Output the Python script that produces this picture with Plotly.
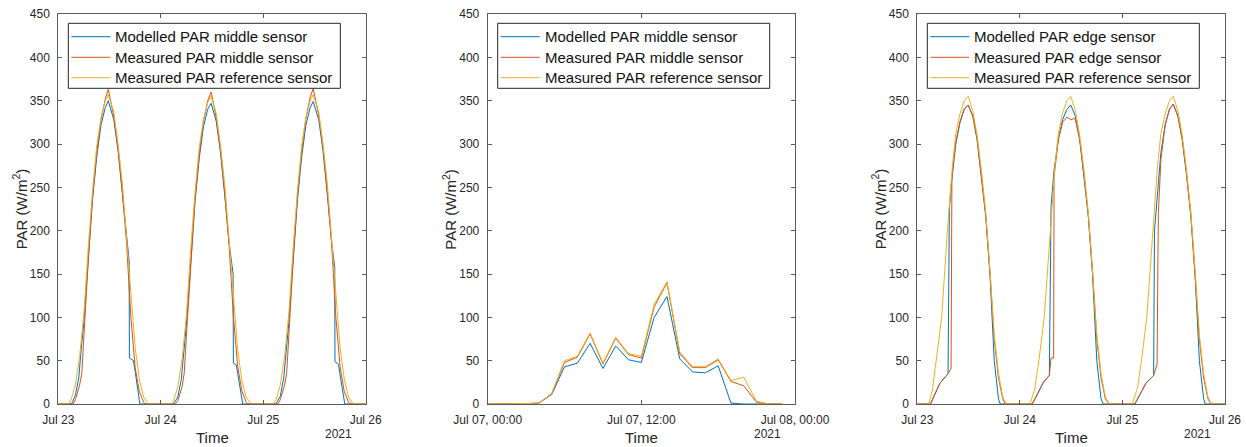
import pandas as pd
import plotly.graph_objects as go

# ---------------------------------------------------------------------------
# Data: hours within each day and PAR (W/m2) at those times.
# Panels 1 and 3 cover 23-25 July 2021, panel 2 covers 7 July 2021.
# ---------------------------------------------------------------------------

# Panel 1 - middle sensor
mid_model_d1_t = [0, 3.1, 4, 4.8, 5.3, 6, 7, 8, 9, 10, 11, 11.7, 13, 14, 15, 16, 16.6, 16.65, 17.6, 18, 19.1]
mid_model_d1_v = [0, 0, 10, 30, 60, 95, 165, 235, 285, 322, 342, 350, 328, 292, 243, 190, 165, 53, 50, 38, 0]
mid_model_d2_t = [2.95, 4, 4.8, 5.3, 6, 7, 8, 9, 10, 11, 11.8, 13, 14, 15, 16, 16.95, 17.0, 17.7, 18.2, 19.2]
mid_model_d2_v = [0, 8, 28, 55, 92, 162, 232, 283, 320, 340, 347, 326, 290, 240, 186, 150, 47, 45, 30, 0]
mid_model_d3_t = [3.0, 4, 4.8, 5.3, 6, 7, 8, 9, 10, 11, 11.7, 13, 14, 15, 16, 16.75, 16.8, 17.6, 18.1, 19.1, 24]
mid_model_d3_v = [0, 9, 30, 58, 94, 164, 234, 285, 322, 342, 349, 328, 292, 242, 188, 158, 49, 46, 32, 0, 0]

mid_meas_d1_t = [0, 3.5, 4, 5, 5.5, 6, 7, 8, 9, 10, 11, 11.7, 13, 14, 15, 16, 17, 18, 19, 20, 20.3]
mid_meas_d1_v = [0, 0, 5, 22, 35, 80, 165, 238, 290, 328, 352, 363, 332, 295, 245, 185, 100, 42, 14, 2, 0]
mid_meas_d2_t = [3.4, 4, 5, 5.5, 6, 7, 8, 9, 10, 11, 11.8, 13, 14, 15, 16, 17, 18, 19, 20, 20.4]
mid_meas_d2_v = [0, 4, 20, 36, 78, 162, 235, 288, 326, 350, 360, 330, 293, 243, 183, 102, 44, 15, 2, 0]
mid_meas_d3_t = [3.4, 4, 5, 5.5, 6, 7, 8, 9, 10, 11, 11.7, 13, 14, 15, 16, 17, 18, 19, 20, 20.3, 24]
mid_meas_d3_v = [0, 5, 22, 36, 80, 166, 240, 292, 330, 354, 364, 333, 296, 246, 186, 101, 43, 14, 2, 0, 0]

mid_ref_d1_t = [0, 2.3, 3, 4, 5, 6, 7, 8, 9, 10, 11, 11.7, 13, 14, 15, 16, 17, 18, 19, 20, 21.1]
mid_ref_d1_v = [0, 0, 5, 22, 55, 105, 180, 245, 298, 330, 350, 357, 337, 300, 255, 195, 130, 65, 28, 8, 0]
mid_ref_d2_t = [2.4, 3, 4, 5, 6, 7, 8, 9, 10, 11, 11.8, 13, 14, 15, 16, 17, 18, 19, 20, 21.2]
mid_ref_d2_v = [0, 4, 20, 52, 102, 178, 243, 296, 328, 348, 355, 335, 298, 253, 193, 128, 63, 27, 8, 0]
mid_ref_d3_t = [2.3, 3, 4, 5, 6, 7, 8, 9, 10, 11, 11.7, 13, 14, 15, 16, 17, 18, 19, 20, 21.1, 24]
mid_ref_d3_v = [0, 5, 22, 55, 105, 180, 245, 298, 330, 350, 357, 337, 300, 255, 195, 130, 65, 28, 8, 0, 0]

# Panel 2 - middle sensor, cloudy day (hourly)
cloudy_t = list(range(24))
cloudy_model_v = [0, 0, 0, 0.3, 1, 11, 43, 47, 70, 41, 67, 51, 48, 100, 124, 52, 37, 36, 44, 1, 0, 0, 0, 0]
cloudy_meas_v = [0, 0, 0, 0.5, 1, 12, 48, 54, 81, 46, 76, 57, 53, 112, 140, 58, 42, 42, 51, 26, 21, 2, 0, 0]
cloudy_ref_v = [0, 0, 0, 0.5, 1, 12, 50, 55, 82, 47, 77, 58, 55, 115, 141, 60, 43, 43, 52, 27, 31, 3, 0, 0]

# Panel 3 - edge sensor
edge_model_d1_t = [0, 3.1, 4, 5.3, 7.2, 7.5, 8, 9, 10, 11, 11.9, 13, 14, 15, 16, 17, 18, 19, 19.4]
edge_model_d1_v = [0, 0, 10, 24, 35, 225, 255, 300, 325, 340, 345, 332, 305, 265, 218, 150, 50, 6, 0]
edge_model_d2_t = [2.9, 4, 5.5, 6.9, 7.3, 8, 9, 10, 11, 11.9, 13, 14, 15, 16, 17, 18, 19, 19.5]
edge_model_d2_v = [0, 10, 25, 33, 228, 270, 305, 328, 340, 345, 332, 305, 265, 218, 150, 50, 6, 0]
edge_model_d3_t = [2.9, 4, 5.5, 7.3, 7.5, 8.3, 9, 10, 11, 11.9, 13, 14, 15, 16, 17, 18, 19, 19.4, 24]
edge_model_d3_v = [0, 10, 24, 33, 200, 248, 290, 322, 340, 346, 332, 305, 265, 218, 150, 50, 6, 0, 0]

edge_meas_d1_t = [0, 3.1, 4, 5.3, 7.2, 7.9, 8.1, 9, 10, 11, 11.9, 13, 14, 15, 16, 17, 18, 19, 20, 20.6]
edge_meas_d1_v = [0, 0, 10, 24, 35, 41, 262, 302, 326, 341, 345, 332, 305, 265, 218, 152, 75, 30, 6, 0]
edge_meas_d2_t = [2.9, 4, 5.5, 6.9, 7.3, 7.9, 8.0, 9, 10, 11, 12, 12.9, 14, 15, 16, 17, 18, 19, 20, 20.9]
edge_meas_d2_v = [0, 10, 25, 33, 53, 53, 262, 305, 325, 331, 328, 330, 305, 265, 218, 152, 75, 30, 6, 0]
edge_meas_d3_t = [2.9, 4, 5.5, 7.3, 8.1, 8.4, 9, 10, 11, 11.9, 13, 14, 15, 16, 17, 18, 19, 20, 20.7, 24]
edge_meas_d3_v = [0, 10, 24, 33, 46, 219, 282, 322, 340, 346, 332, 305, 265, 218, 152, 75, 30, 6, 0, 0]

edge_ref_d1_t = [0, 2.7, 3.5, 4.5, 5.7, 7.0, 8.2, 9, 10, 11, 11.9, 13, 14, 15, 16, 17, 18, 19, 20, 20.8]
edge_ref_d1_v = [0, 0, 15, 51, 100, 197, 274, 312, 335, 350, 355, 338, 310, 270, 222, 155, 80, 35, 8, 0]
edge_ref_d2_t = [2.4, 3.5, 4.5, 5.7, 7.0, 8.2, 9, 10, 11, 11.9, 13, 14, 15, 16, 17, 18, 19, 20, 20.9]
edge_ref_d2_v = [0, 18, 52, 100, 197, 274, 312, 336, 350, 355, 338, 310, 270, 222, 155, 80, 35, 8, 0]
edge_ref_d3_t = [2.3, 3.5, 4.5, 5.7, 7.0, 8.2, 9, 10, 11, 11.9, 13, 14, 15, 16, 17, 18, 19, 20, 20.8, 24]
edge_ref_d3_v = [0, 18, 52, 100, 197, 274, 312, 335, 350, 355, 338, 310, 270, 222, 155, 80, 35, 8, 0, 0]

# Axis ticks
y_ticks = list(range(0, 451, 50))
week_ticks = ["2021-07-23", "2021-07-24", "2021-07-25", "2021-07-26"]
week_labels = ["Jul 23", "Jul 24", "Jul 25", "Jul 26"]
day_ticks = ["2021-07-07 00:00", "2021-07-07 12:00", "2021-07-08 00:00"]
day_labels = ["Jul 07, 00:00", "Jul 07, 12:00", "Jul 08, 00:00"]

# ---------------------------------------------------------------------------
BLUE, ORANGE, YELLOW = "#0072BD", "#D95319", "#EDB120"
FONT = "Liberation Sans, Arial, Helvetica, sans-serif"
TXT = "#262626"
W, H = 1246, 447


def stamp(start, day_lists):
    """Turn per-day hour offsets into timestamps."""
    base = pd.Timestamp(start)
    out = []
    for d, hrs in enumerate(day_lists):
        out += [base + pd.Timedelta(hours=24 * d + h) for h in hrs]
    return out


def join(*parts):
    out = []
    for p in parts:
        out += p
    return out


mid_model_x = stamp("2021-07-23", [mid_model_d1_t, mid_model_d2_t, mid_model_d3_t])
mid_model_y = join(mid_model_d1_v, mid_model_d2_v, mid_model_d3_v)
mid_meas_x = stamp("2021-07-23", [mid_meas_d1_t, mid_meas_d2_t, mid_meas_d3_t])
mid_meas_y = join(mid_meas_d1_v, mid_meas_d2_v, mid_meas_d3_v)
mid_ref_x = stamp("2021-07-23", [mid_ref_d1_t, mid_ref_d2_t, mid_ref_d3_t])
mid_ref_y = join(mid_ref_d1_v, mid_ref_d2_v, mid_ref_d3_v)

cloudy_x = stamp("2021-07-07", [cloudy_t])

edge_model_x = stamp("2021-07-23", [edge_model_d1_t, edge_model_d2_t, edge_model_d3_t])
edge_model_y = join(edge_model_d1_v, edge_model_d2_v, edge_model_d3_v)
edge_meas_x = stamp("2021-07-23", [edge_meas_d1_t, edge_meas_d2_t, edge_meas_d3_t])
edge_meas_y = join(edge_meas_d1_v, edge_meas_d2_v, edge_meas_d3_v)
edge_ref_x = stamp("2021-07-23", [edge_ref_d1_t, edge_ref_d2_t, edge_ref_d3_t])
edge_ref_y = join(edge_ref_d1_v, edge_ref_d2_v, edge_ref_d3_v)

# Panel geometry in pixels: (left, right) of each axes box
panel_px = [(58.3, 365.7), (487.7, 795.0), (917.3, 1225.0)]
top_px, bottom_px = 14.0, 404.0

# Legend box geometry (pixels, relative to the axes' left edge / figure top)
LEG_DX, LEG_W, LEG_TOP, LEG_BOT = 10.0, 272.0, 23.3, 88.3
LEG_ROWS = [36.7, 57.3, 77.7]
SAMPLE_X0, SAMPLE_X1, TEXT_X = 13.0, 52.0, 55.0

panels = [
    dict(
        series=[
            ("Modelled PAR middle sensor", mid_model_x, mid_model_y, BLUE),
            ("Measured PAR middle sensor", mid_meas_x, mid_meas_y, ORANGE),
            ("Measured PAR reference sensor", mid_ref_x, mid_ref_y, YELLOW),
        ],
        xrange=["2021-07-23", "2021-07-26"], ticks=week_ticks, labels=week_labels,
    ),
    dict(
        series=[
            ("Modelled PAR middle sensor", cloudy_x, cloudy_model_v, BLUE),
            ("Measured PAR middle sensor", cloudy_x, cloudy_meas_v, ORANGE),
            ("Measured PAR reference sensor", cloudy_x, cloudy_ref_v, YELLOW),
        ],
        xrange=["2021-07-07 00:00", "2021-07-08 00:00"], ticks=day_ticks, labels=day_labels,
    ),
    dict(
        series=[
            ("Modelled PAR edge sensor", edge_model_x, edge_model_y, BLUE),
            ("Measured PAR edge sensor", edge_meas_x, edge_meas_y, ORANGE),
            ("Measured PAR reference sensor", edge_ref_x, edge_ref_y, YELLOW),
        ],
        xrange=["2021-07-23", "2021-07-26"], ticks=week_ticks, labels=week_labels,
    ),
]


def px_x(v):
    return v / W


def px_y(v):
    return 1 - v / H


fig = go.Figure()
annotations = []
shapes = []
ydom = [px_y(bottom_px), px_y(top_px)]

for i, (p, (lpx, rpx)) in enumerate(zip(panels, panel_px)):
    n = "" if i == 0 else str(i + 1)
    for name, xs, ys, col in p["series"]:
        fig.add_trace(go.Scatter(
            x=xs, y=ys, name=name, mode="lines",
            line=dict(color=col, width=1),
            xaxis="x" + n, yaxis="y" + n, showlegend=False,
        ))

    axis_common = dict(
        showline=True, linecolor="#5a5a5a", linewidth=1, mirror="ticks",
        ticks="inside", ticklen=4, tickcolor="#5a5a5a", tickwidth=1,
        showgrid=False, zeroline=False, automargin=False,
        tickfont=dict(family=FONT, size=12, color=TXT),
    )
    fig.update_layout({
        "xaxis" + n: dict(
            axis_common, type="date", domain=[px_x(lpx), px_x(rpx)], range=p["xrange"],
            tickvals=p["ticks"], ticktext=p["labels"], anchor="y" + n,
            ticklabelstandoff=5,
        ),
        "yaxis" + n: dict(
            axis_common, domain=ydom, range=[0, 450], tickvals=y_ticks,
            anchor="x" + n, ticklabelstandoff=5,
        ),
    })

    # legend: framed box with a line sample and label per series
    lx = lpx + LEG_DX
    shapes.append(dict(
        type="rect", xref="paper", yref="paper",
        x0=px_x(lx), x1=px_x(lx + LEG_W), y0=px_y(LEG_BOT), y1=px_y(LEG_TOP),
        line=dict(color="#262626", width=1), fillcolor="white", layer="above",
    ))
    for (name, _, _, col), row in zip(p["series"], LEG_ROWS):
        shapes.append(dict(
            type="line", xref="paper", yref="paper",
            x0=px_x(lx + SAMPLE_X0 - LEG_DX), x1=px_x(lx + SAMPLE_X1 - LEG_DX),
            y0=px_y(row), y1=px_y(row),
            line=dict(color=col, width=1), layer="above",
        ))
        annotations.append(dict(
            text=name, x=px_x(lpx + TEXT_X), y=px_y(row), xref="paper", yref="paper",
            showarrow=False, xanchor="left", yanchor="middle",
            font=dict(family=FONT, size=15, color="#111111"),
        ))

    # axis titles and the year label
    annotations.append(dict(
        text="Time", x=px_x((lpx + rpx) / 2), y=px_y(437), xref="paper", yref="paper",
        showarrow=False, font=dict(family=FONT, size=15, color=TXT),
        xanchor="center", yanchor="middle",
    ))
    annotations.append(dict(
        text="2021", x=px_x(rpx - 12), y=px_y(433.5), xref="paper", yref="paper",
        showarrow=False, font=dict(family=FONT, size=12, color=TXT),
        xanchor="right", yanchor="middle",
    ))
    annotations.append(dict(
        text="PAR (W/m<sup>2</sup>)", x=px_x(lpx - 38), y=px_y(209),
        xref="paper", yref="paper", showarrow=False, textangle=-90,
        font=dict(family=FONT, size=15, color=TXT),
        xanchor="center", yanchor="middle",
    ))

fig.update_layout(
    template="none",
    width=W, height=H, autosize=False,
    margin=dict(l=0, r=0, t=0, b=0, pad=0),
    paper_bgcolor="white", plot_bgcolor="white",
    annotations=annotations, shapes=shapes,
    font=dict(family=FONT, color=TXT),
    showlegend=False,
)

fig.write_html("out.html")
